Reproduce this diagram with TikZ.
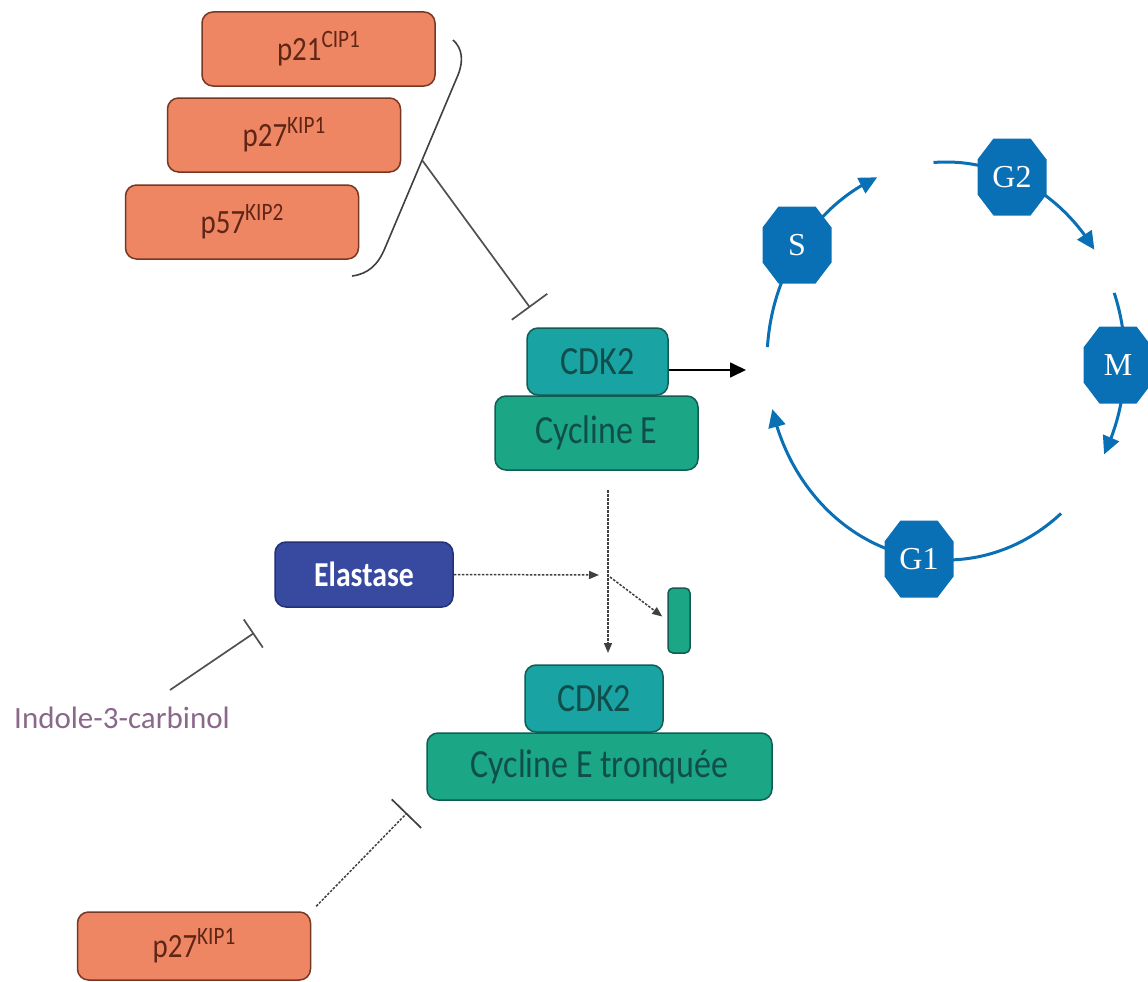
\documentclass[tikz,border=0pt]{standalone}
\usepackage{fontspec}
\setmainfont{Carlito}
\newfontfamily\narrowfont{Carlito}[FakeStretch=0.85]
\newfontfamily\phasefont{Liberation Serif}
\usetikzlibrary{arrows.meta,bending}

\definecolor{salmon}{RGB}{238,134,100}
\definecolor{salmonline}{RGB}{120,55,35}
\definecolor{salmontext}{RGB}{95,38,22}
\definecolor{cdkfill}{RGB}{26,163,163}
\definecolor{cycfill}{RGB}{27,166,134}
\definecolor{tealline}{RGB}{18,92,84}
\definecolor{tealtext}{RGB}{16,78,76}
\definecolor{elafill}{RGB}{56,74,160}
\definecolor{elaline}{RGB}{36,48,118}
\definecolor{phase}{RGB}{10,112,182}
\definecolor{indole}{RGB}{138,104,140}
\definecolor{inhib}{RGB}{80,80,80}

% superscript for protein names (CIP1, KIP1, ...)
\newcommand\kipsup[1]{\raisebox{13pt}{\fontsize{25}{25}\selectfont #1}}

\tikzset{
  x=1pt, y=1pt,
  box/.style={rounded corners=11pt, line width=1.5pt, inner sep=0pt},
  inhibitor/.style={box, fill=salmon, draw=salmonline, text=salmontext,
    minimum width=233pt, minimum height=74pt,
    font=\narrowfont\fontsize{34}{34}\selectfont},
  cdk/.style={box, fill=cdkfill, draw=tealline, text=tealtext,
    minimum height=67pt, font=\narrowfont\fontsize{40}{40}\selectfont},
  cyclin/.style={box, fill=cycfill, draw=tealline, text=tealtext,
    font=\narrowfont\fontsize{40}{40}\selectfont},
  protease/.style={box, fill=elafill, draw=elaline, text=white,
    minimum width=178pt, minimum height=65pt,
    font=\narrowfont\bfseries\fontsize{35}{36}\selectfont},
  octo/.style={minimum width=69pt, minimum height=77pt, inner sep=0pt,
    text=white, font=\phasefont\fontsize{32}{32}\selectfont,
    path picture={
      \fill[phase]
        ([xshift=16pt]path picture bounding box.north west) --
        ([xshift=-16pt]path picture bounding box.north east) --
        ([yshift=-21pt]path picture bounding box.north east) --
        ([yshift=21pt]path picture bounding box.south east) --
        ([xshift=-16pt]path picture bounding box.south east) --
        ([xshift=16pt]path picture bounding box.south west) --
        ([yshift=21pt]path picture bounding box.south west) --
        ([yshift=-21pt]path picture bounding box.north west) -- cycle;}},
  phasearc/.style={draw=phase, line width=3pt,
    -{Triangle[length=18pt,width=17pt]}},
  blocks/.style={draw=inhib, line width=1.7pt,
    -{Bar[width=#1,line width=1.7pt]}},
  dotline/.style={draw=inhib!80!black, line width=1.5pt,
    dash pattern=on 2.5pt off 1.5pt},
  dotarrow/.style={dotline, -{Triangle[length=10pt,width=8pt]}}
}

\begin{document}
\begin{tikzpicture}
\path[use as bounding box, fill=white] (0,0) rectangle (1148,-982);

% CDK inhibitors of the Cip/Kip family
\node[inhibitor] (p21) at (318.5,-49) {p21\kipsup{CIP1}};
\node[inhibitor] (p27) at (284,-135) {p27\kipsup{KIP1}};
\node[inhibitor] (p57) at (242,-222) {p57\kipsup{KIP2}};

% bracket grouping the three inhibitors
\draw[line width=1.6pt, inhib!80!black]
  (453,-40) .. controls (462,-48) and (464,-60) .. (458,-75)
  -- (385,-248) .. controls (378,-265) and (368,-274) .. (352,-276);
\coordinate (brk) at (422,-160);

% CDK2 / cyclin E complex
\node[cyclin, minimum width=203pt, minimum height=74pt] (cycE) at (596.5,-433) {Cycline E};
\node[cdk, minimum width=141pt] (cdk2a) at (597.5,-361.5) {CDK2};
\coordinate (cdkblock) at (530,-307.5);
\draw[blocks=44pt] (brk) -- (cdkblock);

% cell cycle
\coordinate (cc) at (946,-361);
\coordinate (cycin) at (746,-370);
\draw[line width=1.7pt, -{Triangle[length=16pt,width=15pt]}]
  (cdk2a.east |- cycin) -- (cycin);

\draw[phasearc] ([shift={(176:179pt and 199pt)}]cc)
  arc[start angle=176, end angle=112.6, x radius=179pt, y radius=199pt];
\draw[phasearc] ([shift={(94:179pt and 199pt)}]cc)
  arc[start angle=94, end angle=34, x radius=179pt, y radius=199pt];
\draw[phasearc] ([shift={(20:179pt and 199pt)}]cc)
  arc[start angle=20, end angle=-28, x radius=179pt, y radius=199pt];
\draw[phasearc] ([shift={(-50:179pt and 199pt)}]cc)
  arc[start angle=-50, end angle=-166, x radius=179pt, y radius=199pt];

\node[octo] (S)  at (797,-245)  {S};
\node[octo] (G2) at (1012,-177) {G2};
\node[octo] (M)  at (1118,-365) {M};
\node[octo] (G1) at (919,-559)  {G1};

% cleavage of cyclin E by elastase
\node[protease] (ela) at (364,-574.5) {Elastase};
\node[box, fill=cycfill, draw=tealline, rounded corners=5pt,
  minimum width=22pt, minimum height=65pt] (frag) at (679,-620.5) {};
\coordinate (cut) at (608,-575);
\coordinate (cuttop) at (608,-490);
\coordinate (cutbot) at (608,-653);
\draw[dotarrow] (ela.east) -- ([xshift=-9pt]cut);
\draw[dotarrow] (cuttop) -- (cutbot);
\draw[dotarrow] ([xshift=2pt,yshift=-2pt]cut) -- ([xshift=-5pt,yshift=4pt]frag.west);

% truncated cyclin E complex
\node[cyclin, minimum width=345pt, minimum height=67pt] (cycEt) at (599.5,-766.5) {Cycline E tronquée};
\node[cdk, minimum width=138pt] (cdk2b) at (594,-698.5) {CDK2};

% indole-3-carbinol blocks elastase
\node[text=indole, font=\fontsize{31}{32}\selectfont, inner sep=0pt] (i3c) at (122,-718) {Indole-3-carbinol};
\coordinate (i3cout) at (170,-690);
\coordinate (elablock) at (254,-633);
\draw[blocks=34pt] (i3cout) -- (elablock);

% p27 blocks the truncated complex
\node[inhibitor, minimum height=68pt] (p27b) at (194,-946) {p27\kipsup{KIP1}};
\coordinate (tronqblock) at (407,-813);
\draw[dotline, -{Bar[width=41pt,line width=1.7pt]}]
  ([xshift=5pt,yshift=5pt]p27b.north east) -- (tronqblock);
\end{tikzpicture}
\end{document}
